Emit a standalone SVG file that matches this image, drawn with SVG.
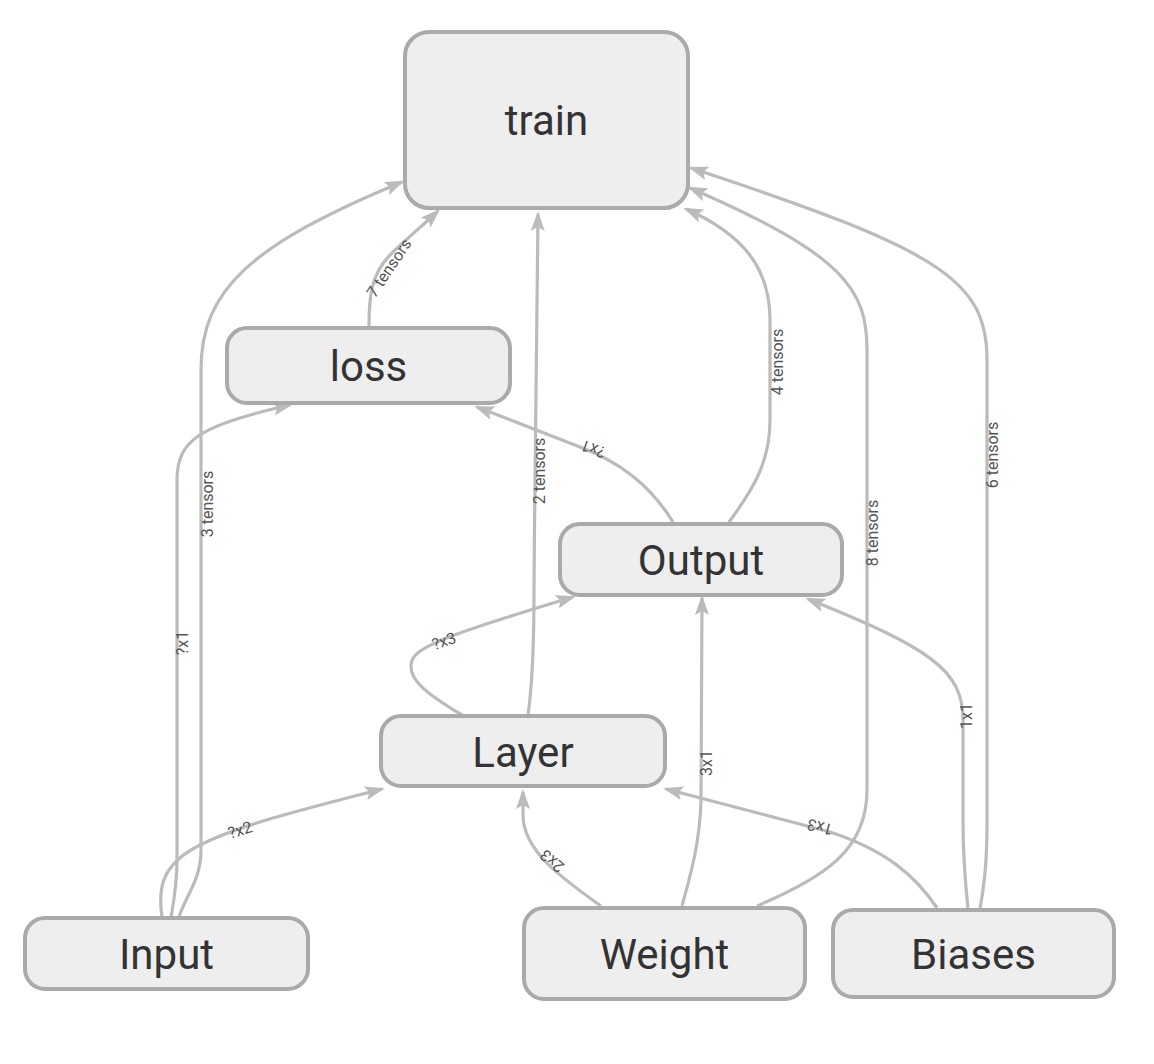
<svg xmlns="http://www.w3.org/2000/svg" width="1154" height="1064" viewBox="0 0 1154 1064">
<style>
.node rect{fill:#eeeeee;stroke:#aaaaaa;stroke-width:4}
.node text{font-family:Roboto,"Liberation Sans",sans-serif;font-size:42px;fill:#333333;text-anchor:middle;dominant-baseline:central}
.edge path{fill:none;stroke:#bbbbbb;stroke-width:3.2;marker-end:url(#arrow)}
.lbl text{font-family:Roboto,"Liberation Sans",sans-serif;font-size:16px;fill:#555555;text-anchor:middle;dominant-baseline:central}
</style>
<defs>
<marker id="arrow" markerUnits="userSpaceOnUse" viewBox="0 0 20 14" markerWidth="20" markerHeight="14" refX="17" refY="7" orient="auto">
<path d="M0,0 L20,7 L0,14 L4,7 z" fill="#bbbbbb"/>
</marker>
</defs>
<rect width="1154" height="1064" fill="#ffffff"/>
<g id="connectors">
<g class="edge">
<path d="M179,917 C186,895 201,880 201,850 L201,370 C201,290 250,245 402,182"/>
<path d="M171,917 C174,900 177,885 177,860 L177,480 C177,440 200,425 290,405"/>
<path d="M162,917 C158,890 160,865 200,845 C240,825 300,810 382,789"/>
<path d="M369,327 C369,300 370,275 390,255 C405,240 420,228 438,211"/>
<path d="M673,522 C650,485 620,462 580,447 L477,407"/>
<path d="M729,522 C755,487 770,460 770,420 L770,320 C770,270 745,235 686,209"/>
<path d="M462,715 C425,693 410,680 411,665 C412,648 440,637 573,597"/>
<path d="M528,715 C533,680 534,640 534,590 C535,450 537,300 538,214"/>
<path d="M601,906 C560,877 523,850 523,815 L523,792"/>
<path d="M682,906 C692,870 700,840 701,800 L702,598"/>
<path d="M757,906 C825,877 867,850 867,790 L867,350 C867,290 845,255 690,188"/>
<path d="M968,909 C965,880 963,850 963,820 L963,720 C963,670 930,648 808,599"/>
<path d="M980,909 C985,880 987,860 987,820 L987,360 C987,280 940,250 691,168"/>
<path d="M937,908 C915,875 885,850 830,832 L666,789"/>
</g>
<g class="lbl">
<text transform="translate(207,504) rotate(-90)">3 tensors</text>
<text transform="translate(182,643) rotate(-90)">?x1</text>
<text transform="translate(240,830) rotate(-17)">?x2</text>
<text transform="translate(389,268) rotate(-56)">7 tensors</text>
<text transform="translate(593,449) rotate(200)">?x1</text>
<text transform="translate(777,362) rotate(-90)">4 tensors</text>
<text transform="translate(444,641) rotate(-19)">?x3</text>
<text transform="translate(539,471) rotate(-90)">2 tensors</text>
<text transform="translate(552,861) rotate(220)">2x3</text>
<text transform="translate(706,763) rotate(-90)">3x1</text>
<text transform="translate(872,533) rotate(-90)">8 tensors</text>
<text transform="translate(966,716) rotate(-90)">1x1</text>
<text transform="translate(992,455) rotate(-90)">6 tensors</text>
<text transform="translate(820,827) rotate(195)">1x3</text>
</g>
</g>
<g id="train" class="node"><rect x="405" y="32" width="283" height="176" rx="24"/><text x="546.5" y="120">train</text></g>
<g id="loss" class="node"><rect x="227" y="328" width="283" height="75" rx="20"/><text x="368.5" y="366">loss</text></g>
<g id="Output" class="node"><rect x="560" y="524" width="282" height="71" rx="20"/><text x="701" y="560">Output</text></g>
<g id="Layer" class="node"><rect x="381" y="716" width="284" height="70" rx="20"/><text x="523" y="752">Layer</text></g>
<g id="Input" class="node"><rect x="25" y="918" width="283" height="71" rx="20"/><text x="166.5" y="954">Input</text></g>
<g id="Weight" class="node"><rect x="524" y="908" width="281" height="91" rx="20"/><text x="664.5" y="954">Weight</text></g>
<g id="Biases" class="node"><rect x="833" y="910" width="281" height="87" rx="20"/><text x="973.5" y="954">Biases</text></g>
</svg>
